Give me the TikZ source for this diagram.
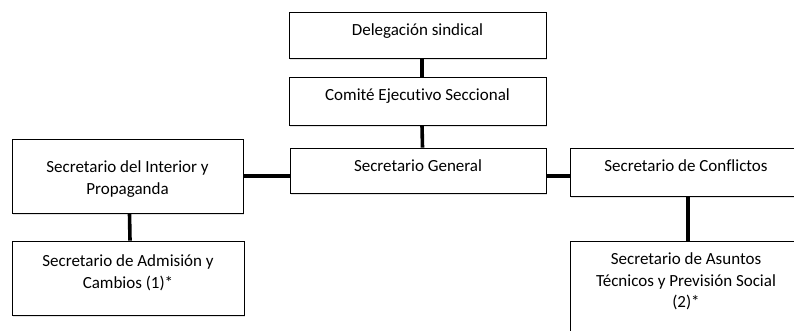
\documentclass[tikz,border=0pt]{standalone}
\usepackage{fontspec}
\setmainfont{Carlito}[Ligatures=NoCommon]
\usetikzlibrary{shadows}

\tikzset{
  caja/.style={draw, line width=0.8pt, fill=white, inner sep=0pt,
    drop shadow={shadow xshift=0.6pt, shadow yshift=-2.4pt, opacity=0.22}},
  rotulo/.style={anchor=north, yshift=-12pt, align=center, inner sep=0pt,
    font=\fontsize{17}{21.5}\selectfont},
  enlace/.style={line width=3.6pt},
}

\begin{document}
\begin{tikzpicture}[x=1pt,y=-1pt]
        \useasboundingbox (0,0) rectangle (794,331);
        \clip (0,0) rectangle (794,331);
        % center column
        \node[caja, minimum width=257pt, minimum height=46pt,
          label={[rotulo]north:Delegación sindical}] (deleg) at (417.5,35) {};
        \node[caja, minimum width=257pt, minimum height=48pt,
          label={[rotulo]north:Comité Ejecutivo Seccional}] (comite) at (417.5,101) {};
        \node[caja, minimum width=256pt, minimum height=45pt,
          label={[rotulo]north:Secretario General}] (general) at (418,170.5) {};
        % left branch
        \node[caja, minimum width=231pt, minimum height=74pt,
          label={[rotulo,yshift=-10pt]north:{Secretario del Interior y\\Propaganda}}] (interior) at (127.5,176) {};
        \node[caja, minimum width=232pt, minimum height=74pt,
          label={[rotulo,yshift=-2pt]north:{Secretario de Admisión y\\Cambios (1)*}}] (admision) at (128,278) {};
        % right branch
        \node[caja, minimum width=232pt, minimum height=48pt,
          label={[rotulo]north:Secretario de Conflictos}] (conflictos) at (686,172) {};
        \node[caja, minimum width=232pt, minimum height=96pt,
          label={[rotulo]north:{Secretario de Asuntos\\Técnicos y Previsión Social\\(2)*}}] (asuntos) at (686,289) {};
        % connectors
        \draw[enlace] ([xshift=4.5pt]deleg.south) -- ([xshift=4.5pt]comite.north);
        \draw[enlace] ([xshift=4.5pt]comite.south) -- ([xshift=4.5pt]general.north);
        \draw[enlace] (interior.east) -- (interior.east -| general.west);
        \draw[enlace] (interior.east -| general.east) -- (interior.east -| conflictos.west);
        \draw[enlace] ([xshift=2pt]interior.south) -- ([xshift=2pt]admision.north);
        \draw[enlace] ([xshift=2pt]conflictos.south) -- ([xshift=2pt]asuntos.north);
      \end{tikzpicture}
\end{document}
